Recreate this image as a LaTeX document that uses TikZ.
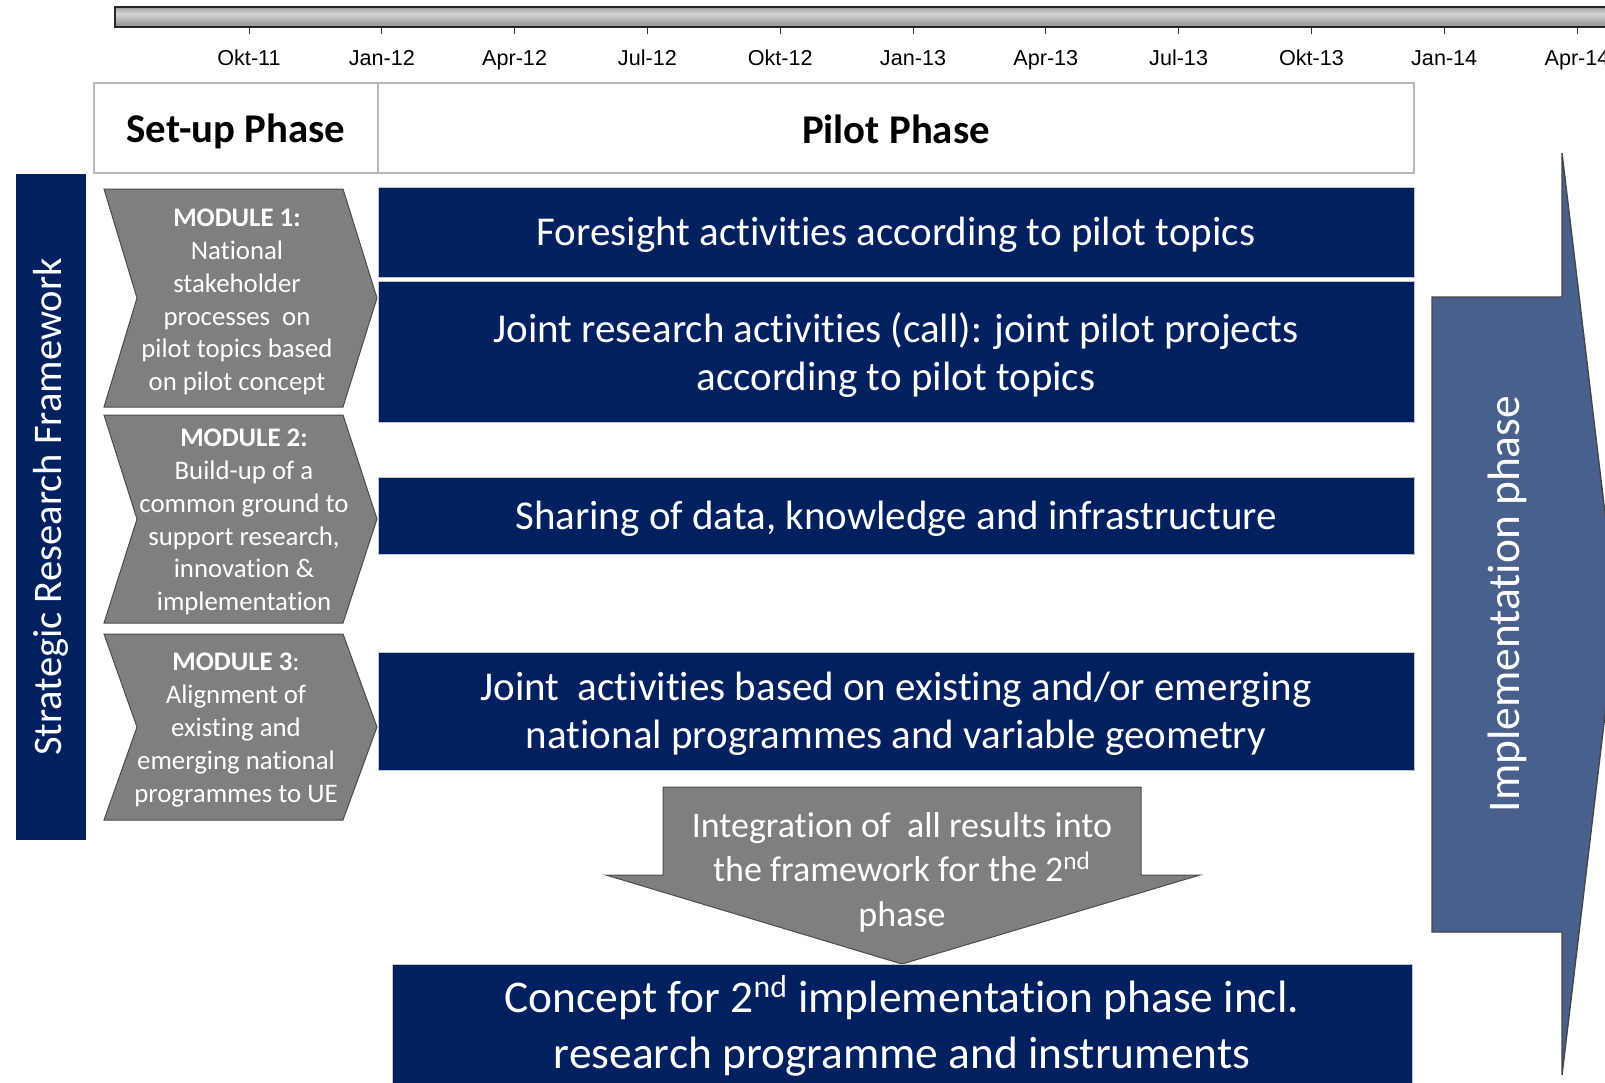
\documentclass[tikz,border=0pt]{standalone}
\usepackage{fontspec}
\setmainfont{Carlito}[Ligatures=NoCommon]
\newfontfamily\timefont{Liberation Sans}

\definecolor{navy}{RGB}{0,32,96}
\definecolor{modgray}{RGB}{127,127,127}
\definecolor{implblue}{RGB}{74,96,140}

\begin{document}
\begin{tikzpicture}[x=0.5pt,y=-0.5pt,
	navybox/.style={fill=navy,draw=gray!45,line width=0.4pt},
	boxtext/.style={text=white,align=center,yshift=-1.5pt,font=\fontsize{20.5}{24.2}\selectfont},
	modtext/.style={text=white,align=center,yshift=-1.5pt,font=\fontsize{13.4}{16.4}\selectfont},
	greyshape/.style={fill=modgray,draw=gray!60!black,line width=0.5pt}]
			\useasboundingbox (0,0) rectangle (1605,1082);
			\clip (0,0) rectangle (1605,1082);
			
			% time line
			\foreach \k/\g in {0/72,2/58,4/46,6/36,8/40,10/50,12/58,14/66,16/74,18/82}
				\fill [gray!\g] (115,{7+\k}) rectangle (1640,{9+\k});
			\draw [gray!30!black,line width=0.6pt] (115,7) rectangle (1640,27);
			\foreach \mon [count=\i from 0] in {Okt-11,Jan-12,Apr-12,Jul-12,Okt-12,Jan-13,Apr-13,Jul-13,Okt-13,Jan-14,Apr-14} {
				\draw [gray!40!black,line width=0.5pt] ({249+132.8*\i},27) -- ({249+132.8*\i},34);
				\node [anchor=base,font=\timefont\fontsize{10.8}{12}\selectfont] (t\i) at ({249+132.8*\i},65) {\mon};
			}
			
			% phases
			\draw [gray!55,line width=0.6pt,fill=white] (94,83) rectangle (1414,173); \draw [gray!55,line width=0.6pt] (378,83) -- (378,173);
			\node [font=\bfseries\fontsize{20.4}{24}\selectfont,yshift=-1pt] (setup) at (236,129) {Set-up Phase};
			\node [font=\bfseries\fontsize{20.4}{24}\selectfont] (pilot) at (896,129) {Pilot Phase};
			
			\fill [navy] (16,174) rectangle (86,840);
			\node [rotate=90,text=white,font=\fontsize{20.3}{24}\selectfont] (srf) at (51,507) {Strategic Research Framework};
			
			% modules
			\foreach \ya/\yb in {189/407,415/623,634/820}
				\draw [greyshape] (104,\ya) -- (343,\ya) -- (377,{(\ya+\yb)/2}) -- (343,\yb) -- (104,\yb) -- (137,{(\ya+\yb)/2}) -- cycle;
			\node [modtext] (mod1) at (237,299) {\textbf{MODULE 1:}\\National\\stakeholder\\processes\ \ on\\pilot topics based\\on pilot concept};
			\node [modtext] (mod2) at (244,519) {\textbf{MODULE 2:}\\Build-up of a\\common ground to\\support research,\\innovation \&\\implementation};
			\node [modtext] (mod3) at (236,727) {\textbf{MODULE 3}:\\Alignment of\\existing and\\emerging national\\programmes to UE};
			
			% activities
			\draw [navybox] (378,187) rectangle (1414,277); \node [boxtext] (foresight) at (896,232) {Foresight activities according to pilot topics};
			\draw [navybox] (378,281) rectangle (1414,422); \node [boxtext] (jointres) at (896,352) {Joint research activities (call): joint pilot projects\\according to pilot topics};
			\draw [navybox] (378,477) rectangle (1414,554); \node [boxtext] (sharing) at (896,516) {Sharing of data, knowledge and infrastructure};
			\draw [navybox] (378,652) rectangle (1414,770); \node [boxtext] (jointact) at (896,711) {Joint\ \ activities based on existing and/or emerging\\national programmes and variable geometry};
			
			\draw [greyshape] (663,787) -- (1141,787) -- (1141,875) -- (1200,875) -- (902,964) -- (606,875) -- (663,875) -- cycle;
			\node [text=white,align=center,yshift=-1.5pt,font=\fontsize{18}{22.3}\selectfont] (integr) at (902,869) {Integration of\ \ all results into\\the framework for the 2\textsuperscript{nd}\\phase};
			
			\draw [navybox] (392,964) rectangle (1412,1100);
			\node [text=white,align=center,font=\fontsize{22.7}{28}\selectfont] (concept) at (902,1026) {Concept for 2\textsuperscript{nd} implementation phase incl.\\research programme and instruments};
			
			% implementation arrow
			\draw [fill=implblue,draw=gray!55!black,line width=0.7pt] (1432,297) -- (1562,297) -- (1562,153) -- (1617,614) -- (1562,1075) -- (1562,932) -- (1432,932) -- cycle;
			\node [rotate=90,text=white,font=\fontsize{22.7}{26}\selectfont] (impl) at (1507,604) {Implementation phase};
\end{tikzpicture}
\end{document}
